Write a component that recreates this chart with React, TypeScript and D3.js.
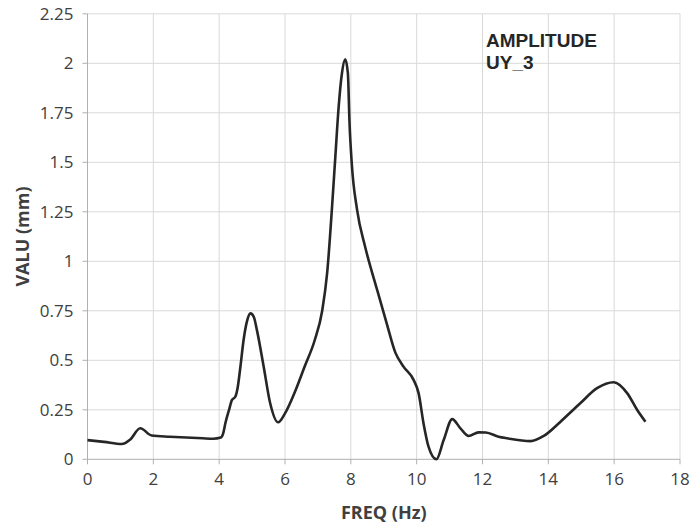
import React from "react";
import * as d3 from "d3";

const freq = [0, 0.5, 1.04, 1.3, 1.6, 1.95, 2.5, 3.0, 3.5, 3.82, 4.05, 4.12, 4.19, 4.3, 4.39, 4.49, 4.56, 4.64, 4.74, 4.85, 4.95, 5.05, 5.15, 5.35, 5.55, 5.79, 6.0, 6.3, 6.6, 6.9, 7.13, 7.28, 7.43, 7.53, 7.63, 7.73, 7.83, 7.91, 7.96, 8.03, 8.19, 8.44, 8.8, 9.1, 9.35, 9.6, 9.91, 10.06, 10.21, 10.36, 10.6, 10.82, 11.08, 11.33, 11.58, 11.88, 12.1, 12.49, 12.75, 13.46, 13.86, 14.37, 14.97, 15.48, 15.99, 16.4, 16.7, 16.95];
const value = [0.097, 0.088, 0.077, 0.1, 0.157, 0.12, 0.114, 0.11, 0.106, 0.104, 0.11, 0.13, 0.183, 0.25, 0.3, 0.316, 0.36, 0.46, 0.6, 0.7, 0.737, 0.72, 0.65, 0.47, 0.283, 0.187, 0.232, 0.34, 0.47, 0.6, 0.75, 0.94, 1.276, 1.53, 1.78, 1.95, 2.02, 1.95, 1.7, 1.49, 1.26, 1.07, 0.855, 0.68, 0.54, 0.468, 0.40, 0.333, 0.18, 0.064, 0.0, 0.097, 0.203, 0.156, 0.118, 0.136, 0.135, 0.114, 0.106, 0.092, 0.118, 0.19, 0.283, 0.359, 0.389, 0.333, 0.249, 0.19];

const xTicks = [0, 2, 4, 6, 8, 10, 12, 14, 16, 18];
const yTicks = [0, 0.25, 0.5, 0.75, 1, 1.25, 1.5, 1.75, 2, 2.25];
const yTickLabels = ["0", "0.25", "0.5", "0.75", "1", "1.25", "1.5", "1.75", "2", "2.25"];
const titleLines = ["AMPLITUDE", "UY_3"];
const xLabel = "FREQ (Hz)";
const yLabel = "VALU (mm)";

export default function App() {
  const W = 690, H = 528;
  const left = 87.5, right = 680, top = 13.8, bottom = 459.3;
  const x = d3.scaleLinear().domain([0, 18]).range([left, right]);
  const y = d3.scaleLinear().domain([0, 2.25]).range([bottom, top]);
  const pts: [number, number][] = freq.map((f, i) => [f, value[i]]);
  const line = d3
    .line<[number, number]>()
    .x((d) => x(d[0]))
    .y((d) => y(d[1]))
    .curve(d3.curveMonotoneX);
  const tickFont = "'Open Sans', sans-serif";
  return (
    <svg width={W} height={H} style={{ position: "absolute", left: 0, top: 0, background: "#fff" }}>
      {xTicks.slice(1).map((t) => (
        <line key={"gx" + t} x1={x(t)} x2={x(t)} y1={top} y2={bottom} stroke="#d9d9d9" strokeWidth={1} />
      ))}
      {yTicks.slice(1).map((t) => (
        <line key={"gy" + t} x1={left} x2={right} y1={y(t)} y2={y(t)} stroke="#d9d9d9" strokeWidth={1} />
      ))}
      <line x1={left} x2={left} y1={top} y2={bottom} stroke="#b0b0b0" strokeWidth={1} />
      <line x1={left} x2={right} y1={bottom} y2={bottom} stroke="#b0b0b0" strokeWidth={1} />
      {yTicks.map((t) => (
        <line key={"ty" + t} x1={left - 5} x2={left} y1={y(t)} y2={y(t)} stroke="#b0b0b0" strokeWidth={1} />
      ))}
      {xTicks.map((t) => (
        <line key={"tx" + t} x1={x(t)} x2={x(t)} y1={bottom} y2={bottom + 5} stroke="#b0b0b0" strokeWidth={1} />
      ))}
      {yTicks.map((t, i) => (
        <text key={"ly" + t} x={left - 14} y={y(t)} dy="0.36em" textAnchor="end" fontFamily={tickFont} fontSize={17} fill="#404040">
          {yTickLabels[i]}
        </text>
      ))}
      {xTicks.map((t) => (
        <text key={"lx" + t} x={x(t)} y={bottom + 26} textAnchor="middle" fontFamily={tickFont} fontSize={17} fill="#404040">
          {t}
        </text>
      ))}
      <text x={(left + right) / 2} y={519} textAnchor="middle" fontFamily={tickFont} fontWeight="bold" fontSize={18} fill="#404040">
        {xLabel}
      </text>
      <text transform={`translate(29,${(top + bottom) / 2}) rotate(-90)`} textAnchor="middle" fontFamily={tickFont} fontWeight="bold" fontSize={18} fill="#404040">
        {yLabel}
      </text>
      <path d={line(pts) || ""} fill="none" stroke="#262626" strokeWidth={2.6} strokeLinejoin="round" />
      {titleLines.map((s, i) => (
        <text key={s} x={486} y={47 + i * 21.5} fontFamily="'Liberation Sans', Arial, sans-serif" fontWeight="bold" fontSize={19} fill="#262626">
          {s}
        </text>
      ))}
    </svg>
  );
}
